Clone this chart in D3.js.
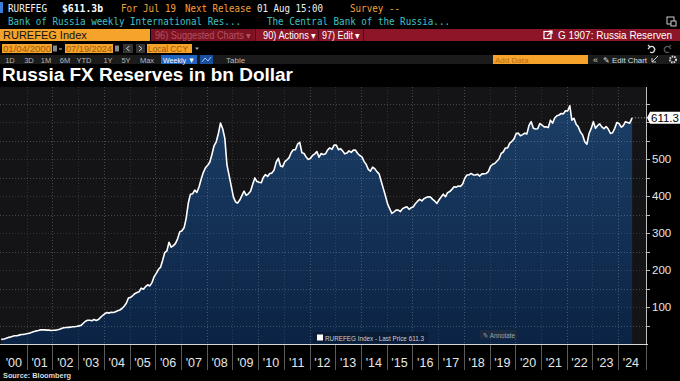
<!DOCTYPE html>
<html><head><meta charset="utf-8">
<script src="https://cdn.jsdelivr.net/npm/d3@7/dist/d3.min.js"></script>
<style>html,body{margin:0;padding:0;background:#000;}svg{display:block;}</style>
</head><body><svg id="c" width="680" height="381"></svg>
<script>
// ---- DATA ----
const firstDate = "2000-01-04";
// monthly readings of Russia FX reserves, bn USD, Jan 2000 .. Jun 2024
const reserves = [
 12.5, 13.6, 15.5, 17.8, 18.6, 21.0, 22.5, 22.4, 24.0, 25.5, 26.0, 27.0,
 28.5, 29.4, 31.5, 33.9, 35.4, 36.6, 38.2, 38.5, 38.2, 37.6, 37.6, 36.6,
 37.0, 37.5, 38.5, 40.0, 42.5, 44.0, 44.5, 45.0, 45.5, 46.5, 46.8, 47.8,
 49.0, 51.0, 56.0, 61.5, 64.0, 64.4, 63.0, 66.0, 63.5, 66.0, 72.0, 77.0,
 82.0, 85.0, 83.5, 86.0, 85.0, 87.0, 90.0, 92.0, 96.0, 102.0, 110.0, 124.5,
 126.0, 131.0, 136.0, 139.0, 141.0, 151.0, 148.0, 155.0, 160.0, 157.0, 166.0, 182.0,
 191.0, 202.0, 207.0, 226.0, 247.0, 252.0, 275.0, 262.0, 266.0, 272.0, 285.0, 303.7,
 306.0, 315.0, 339.0, 381.0, 405.0, 406.0, 416.0, 410.0, 425.0, 446.0, 464.0, 476.4,
 483.0, 492.0, 512.0, 536.0, 546.0, 569.0, 597.0, 582.0, 556.0, 484.0, 455.0, 427.0,
 397.0, 384.0, 381.0, 389.0, 401.0, 413.0, 402.0, 406.0, 413.0, 431.0, 449.0, 439.0,
 437.0, 436.0, 450.0, 458.0, 453.0, 461.0, 462.0, 470.0, 492.0, 502.0, 481.0, 479.0,
 493.0, 498.0, 503.0, 517.0, 525.0, 525.0, 540.0, 545.0, 517.0, 515.0, 505.0, 499.0,
 502.0, 510.0, 514.0, 520.0, 505.0, 515.0, 512.0, 514.0, 525.0, 530.0, 526.0, 537.6,
 538.0, 525.0, 528.0, 522.0, 514.0, 516.0, 522.0, 518.0, 524.0, 524.0, 515.0, 509.6,
 506.0, 493.0, 486.0, 472.0, 467.0, 478.0, 474.0, 466.0, 460.0, 440.0, 420.0, 400.0,
 378.0, 365.0, 353.0, 357.0, 362.0, 362.0, 358.0, 366.0, 369.0, 371.0, 364.0, 368.4,
 371.0, 380.0, 386.0, 391.0, 387.0, 393.0, 396.0, 398.0, 397.0, 391.0, 386.0, 380.0,
 390.0, 398.0, 405.0, 398.0, 409.0, 412.0, 418.0, 425.0, 424.0, 427.0, 426.0, 432.7,
 448.0, 457.0, 457.0, 461.0, 457.0, 457.0, 459.0, 454.0, 460.0, 460.0, 461.0, 466.0,
 480.0, 486.0, 488.0, 494.0, 500.0, 515.0, 519.0, 530.0, 530.0, 543.0, 548.0, 554.4,
 569.0, 570.0, 563.0, 566.0, 570.0, 568.0, 591.0, 601.0, 583.0, 581.0, 582.0, 595.8,
 592.0, 587.0, 587.0, 585.0, 605.0, 597.0, 611.0, 617.0, 619.0, 623.0, 622.0, 630.6,
 630.0, 644.0, 605.0, 610.0, 594.0, 587.0, 573.0, 565.0, 547.0, 540.0, 569.0, 582.0,
 601.0, 583.0, 590.0, 595.0, 587.0, 582.0, 588.0, 581.0, 569.0, 571.0, 583.0, 598.6,
 596.0, 586.0, 590.0, 601.0, 599.0, 597.0
];
const lastDate = "2024-07-19";
const lastPrice = 611.3;
const yearLabels = ["'00","'01","'02","'03","'04","'05","'06","'07","'08","'09","'10","'11","'12",
  "'13","'14","'15","'16","'17","'18","'19","'20","'21","'22","'23","'24"];
const yLabels = [100, 200, 300, 400, 500];
const yMinor = [50,100,150,200,250,300,350,400,450,500,550,600,650];

// ---- BUILD ----
const svg = d3.select("#c");
const parse = d3.timeParse("%Y-%m-%d");
const series = reserves.map((v, i) => ({date: i === 0 ? parse(firstDate) : new Date(2000, i, 15), value: v}));
series.push({date: parse(lastDate), value: lastPrice});

const plotL = 0, plotR = 646, plotT = 87, plotB = 344;
const x = d3.scaleTime().domain([new Date(2000,0,1), new Date(2025,1,1)]).range([1, plotR]);
const y = d3.scaleLinear().domain([0, 692]).range([plotB, 88]);

const defs = svg.append("defs");
const grad = defs.append("linearGradient").attr("id","fillg").attr("x1",0).attr("y1",0).attr("x2",0).attr("y2",1);
grad.append("stop").attr("offset","0%").attr("stop-color","#1c3e66");
grad.append("stop").attr("offset","100%").attr("stop-color","#0b2344");

const mono = "'DejaVu Sans Mono', monospace";
const sans = "'Liberation Sans', Arial, sans-serif";
function txt(g, s, xx, yy, opt) {
  const t = g.append("text").attr("x", xx).attr("y", yy).text(s)
    .attr("font-family", opt.ff || sans).attr("font-size", opt.fs || 11)
    .attr("fill", opt.fill || "#fff");
  if (opt.fw) t.attr("font-weight", opt.fw);
  if (opt.tl) t.attr("textLength", opt.tl).attr("lengthAdjust", "spacingAndGlyphs");
  if (opt.anchor) t.attr("text-anchor", opt.anchor);
  return t;
}
const hdr = svg.append("g");
hdr.append("rect").attr("x",0).attr("y",2).attr("width",3).attr("height",11).attr("fill","#3b7dd8");
txt(hdr, "RUREFEG", 8, 12, {ff: mono, fs: 10.5, tl: 39, fill:"#f2f2f2"});
txt(hdr, "$611.3b", 62, 12, {ff: mono, fs: 10.5, tl: 41, fw: "bold", fill:"#fff"});
txt(hdr, "For Jul 19", 121, 12, {ff: mono, fs: 10.5, tl: 55, fill:"#f0a23a"});
txt(hdr, "Next Release", 185, 12, {ff: mono, fs: 10.5, tl: 66, fill:"#f0a23a"});
txt(hdr, "01 Aug 15:00", 257, 12, {ff: mono, fs: 10.5, tl: 66, fill:"#f2f2f2"});
txt(hdr, "Survey --", 350, 12, {ff: mono, fs: 10.5, tl: 50, fill:"#f0a23a"});
txt(hdr, "Bank of Russia weekly International Res...", 8, 24.5, {ff: mono, fs: 10.5, tl: 233, fill:"#3fc0c6"});
txt(hdr, "The Central Bank of the Russia...", 267, 24.5, {ff: mono, fs: 10.5, tl: 183, fill:"#3fc0c6"});
hdr.append("rect").attr("x",667).attr("y",17).attr("width",7).attr("height",7).attr("fill","none").attr("stroke","#ccc").attr("stroke-width",1);
hdr.append("rect").attr("x",671).attr("y",21).attr("width",5).attr("height",5).attr("fill","#000").attr("stroke","#ccc").attr("stroke-width",1);

// row 3
hdr.append("rect").attr("x",0).attr("y",29).attr("width",150).attr("height",12).attr("fill","#f5a32a");
txt(hdr, "RUREFEG Index", 3, 39, {fs: 11, fill:"#111"});
hdr.append("rect").attr("x",151).attr("y",29).attr("width",529).attr("height",12).attr("fill","#8c1528");
hdr.append("rect").attr("x",151).attr("y",29).attr("width",103).attr("height",12).attr("fill","#7a1222");
txt(hdr, "96) Suggested Charts \u25BE", 155, 39, {fs: 10, fill:"#b8505e", tl: 96});
hdr.append("rect").attr("x",255).attr("y",29).attr("width",1).attr("height",12).attr("fill","#4a0a12");
txt(hdr, "90) Actions \u25BE", 263, 39, {fs: 10, fill:"#fff", tl: 53});
hdr.append("rect").attr("x",318).attr("y",29).attr("width",1).attr("height",12).attr("fill","#4a0a12");
txt(hdr, "97) Edit \u25BE", 322, 39, {fs: 10, fill:"#fff", tl: 38});
hdr.append("rect").attr("x",363).attr("y",29).attr("width",1).attr("height",12).attr("fill","#4a0a12");
hdr.append("rect").attr("x",544).attr("y",31.5).attr("width",7).attr("height",7).attr("fill","none").attr("stroke","#fff").attr("stroke-width",1.2);
hdr.append("path").attr("d","M547,36 L552,31 M549,31 L552,31 L552,34").attr("stroke","#fff").attr("stroke-width",1.2).attr("fill","none");
txt(hdr, "G 1907: Russia Reserven", 558, 39, {fs: 10.5, fill:"#fff", tl: 114});

// row 4
function obox(xx, w, s, tl) {
  hdr.append("rect").attr("x",xx).attr("y",44).attr("width",w).attr("height",9).attr("fill","#f5a32a");
  txt(hdr, s, xx+1, 52, {fs: 9, fill:"#9a5c0c", tl: tl});
}
obox(2, 50, "01/04/2000", 48);
hdr.append("rect").attr("x",53).attr("y",45.5).attr("width",4).attr("height",6).attr("fill","#888");
hdr.append("rect").attr("x",59).attr("y",48.5).attr("width",3).attr("height",1).attr("fill","#ccc");
obox(65, 48, "07/19/2024", 46);
hdr.append("rect").attr("x",115).attr("y",45.5).attr("width",4).attr("height",6).attr("fill","#888");
hdr.append("rect").attr("x",123).attr("y",44).attr("width",10).attr("height",9).attr("fill","#333");
hdr.append("path").attr("d","M129.5,46 L126.5,48.5 L129.5,51").attr("stroke","#ccc").attr("fill","none");
hdr.append("rect").attr("x",136).attr("y",44).attr("width",9).attr("height",9).attr("fill","#333");
hdr.append("path").attr("d","M139,46 L142,48.5 L139,51").attr("stroke","#ccc").attr("fill","none");
obox(147, 45, "Local CCY", 40);
hdr.append("path").attr("d","M195,47.5 L199,47.5 L197,50 Z").attr("fill","#aaa");
hdr.append("path").attr("d","M650,47 A3,3 0 1 1 650,52 M648,45 L650,47 L648,49").attr("stroke","#ddd").attr("fill","none").attr("stroke-width",1.3);
hdr.append("path").attr("d","M669,47 A3,3 0 1 0 669,52 M671,45 L669,47 L671,49").attr("stroke","#555").attr("fill","none").attr("stroke-width",1.3);

// row 5
hdr.append("rect").attr("x",0).attr("y",55).attr("width",680).attr("height",9).attr("fill","#1b1b1b");
[["1D",10],["3D",29],["1M",46],["6M",65],["YTD",84],["1Y",108],["5Y",126],["Max",147]].forEach(d => {
  txt(hdr, d[0], d[1], 62.5, {fs: 7.5, fill:"#b8b8b8", anchor:"middle"});
});
hdr.append("rect").attr("x",161).attr("y",55).attr("width",36).attr("height",9).attr("fill","#1f62c0");
txt(hdr, "Weekly \u25BC", 163, 62.5, {fs: 8, fill:"#fff", tl: 32});
hdr.append("rect").attr("x",200).attr("y",55).attr("width",13).attr("height",9).attr("fill","#1a4f9e");
hdr.append("path").attr("d","M202,62 L205,58 L208,61 L211,57").attr("stroke","#9cc4ff").attr("fill","none").attr("stroke-width",1);
txt(hdr, "Table", 226, 62.5, {fs: 8, fill:"#b8b8b8"});
hdr.append("rect").attr("x",493).attr("y",55).attr("width",95).attr("height",9).attr("fill","#f5a32a");
txt(hdr, "Add Data", 495, 62.5, {fs: 8, fill:"#b8701a"});
txt(hdr, "\u00AB", 593, 62.5, {fs: 9, fill:"#ccc"});
txt(hdr, "\u270E Edit Chart", 603, 62.5, {fs: 8, fill:"#ddd", tl: 44});
hdr.append("path").attr("d","M652,62 L658,56 M652,58 L652,62 L656,62").attr("stroke","#ccc").attr("fill","none");
hdr.append("circle").attr("cx",673).attr("cy",59.5).attr("r",3).attr("fill","none").attr("stroke","#ddd").attr("stroke-width",2).attr("stroke-dasharray","1.5,1");

// title
txt(svg, "Russia FX Reserves in bn Dollar", 2, 81, {fs: 18, fw: "bold", fill:"#fff", tl: 291});

// plot background
svg.append("rect").attr("x",plotL).attr("y",plotT).attr("width",plotR-plotL).attr("height",plotB-plotT).attr("fill","#141416");

// area + line
const area = d3.area().x(d => x(d.date)).y0(y(0)).y1(d => y(d.value));
const line = d3.line().x(d => x(d.date)).y(d => y(d.value));
svg.append("path").datum(series).attr("d", area).attr("fill","url(#fillg)");

// grid (on top of fill, faint)
const grid = svg.append("g");
const years = d3.range(2001, 2025);
grid.selectAll("line.v").data(years).join("line")
  .attr("x1", d => Math.round(x(new Date(d,0,1)))+0.5).attr("x2", d => Math.round(x(new Date(d,0,1)))+0.5)
  .attr("y1", plotT).attr("y2", plotB)
  .attr("stroke", d => d % 2 === 0 ? "rgba(255,255,255,0.22)" : "rgba(255,255,255,0.12)")
  .attr("stroke-dasharray", "1,2");
grid.selectAll("line.h").data(yMinor).join("line")
  .attr("x1", plotL).attr("x2", plotR)
  .attr("y1", d => Math.round(y(d))+0.5).attr("y2", d => Math.round(y(d))+0.5)
  .attr("stroke", d => d % 100 === 50 ? "rgba(255,255,255,0.22)" : "rgba(255,255,255,0.14)")
  .attr("stroke-dasharray", "1,2");

svg.append("path").datum(series).attr("d", line).attr("fill","none")
  .attr("stroke","#fff").attr("stroke-width",1.6).attr("stroke-linejoin","round");

// y axis (right)
const yAxis = svg.append("g");
yAxis.append("line").attr("x1",plotR+0.5).attr("x2",plotR+0.5).attr("y1",plotT).attr("y2",plotB).attr("stroke","#bdbdbd");
yAxis.selectAll("line.t").data(yMinor).join("line")
  .attr("x1", plotR).attr("x2", plotR+4)
  .attr("y1", d => Math.round(y(d))+0.5).attr("y2", d => Math.round(y(d))+0.5)
  .attr("stroke","#bdbdbd");
yAxis.selectAll("text").data(yLabels).join("text")
  .attr("x", plotR+6).attr("y", d => y(d)+4)
  .attr("font-family", sans).attr("font-size", 11.5).attr("fill","#e6e6e6")
  .text(d => d);

// last price tag
const ly = y(lastPrice);
svg.append("line").attr("x1", x(parse(lastDate))).attr("x2", plotR).attr("y1", ly).attr("y2", ly)
  .attr("stroke","#aaa").attr("stroke-dasharray","1,2");
svg.append("path").attr("d", `M${plotR+1},${ly} L${plotR+4},${ly-6} L680,${ly-6} L680,${ly+6} L${plotR+4},${ly+6} Z`).attr("fill","#fff");
svg.append("text").attr("x", plotR+5).attr("y", ly+4).attr("font-family", sans).attr("font-size", 11.5)
  .attr("fill","#000").text(lastPrice.toFixed(1));

// x axis
const xAxis = svg.append("g");
xAxis.append("line").attr("x1",plotL).attr("x2",plotR+2).attr("y1",plotB+0.5).attr("y2",plotB+0.5).attr("stroke","#d8d8d8").attr("stroke-width",1.2);
xAxis.selectAll("line.sep").data(years).join("line")
  .attr("x1", d => Math.round(x(new Date(d,0,1)))+0.5).attr("x2", d => Math.round(x(new Date(d,0,1)))+0.5)
  .attr("y1", plotB+1).attr("y2", plotB+26)
  .attr("stroke","#5a5a5a");
xAxis.append("line").attr("x1",plotR+0.5).attr("x2",plotR+0.5).attr("y1",plotB+1).attr("y2",plotB+26).attr("stroke","#5a5a5a");
xAxis.selectAll("text").data(yearLabels).join("text")
  .attr("x", (d,i) => {
    const a = x(new Date(2000+i,0,1)), b = Math.min(x(new Date(2001+i,0,1)), plotR);
    return (a+b)/2;
  })
  .attr("y", plotB+23).attr("text-anchor","middle")
  .attr("font-family", sans).attr("font-size", 12.5).attr("fill","#e6e6e6")
  .text(d => d);

// legend
const lg = svg.append("g");
lg.append("rect").attr("x",313).attr("y",332).attr("width",115).attr("height",11).attr("fill","#0a1c36");
lg.append("rect").attr("x",317).attr("y",334.5).attr("width",6).attr("height",6).attr("fill","#fff");
txt(lg, "RUREFEG Index - Last Price 611.3", 325, 341, {fs: 8, fill:"#d0d0d0", tl: 99});
lg.append("rect").attr("x",480).attr("y",330).attr("width",37).attr("height",9).attr("fill","#1a2a40");
txt(lg, "\u270E Annotate", 483, 337.5, {fs: 7, fill:"#9aa4b0", tl: 32});

// source
txt(svg, "Source: Bloomberg", 3, 378, {fs: 7.5, fw: "bold", fill:"#dcdcdc", tl: 68});
</script></body></html>
